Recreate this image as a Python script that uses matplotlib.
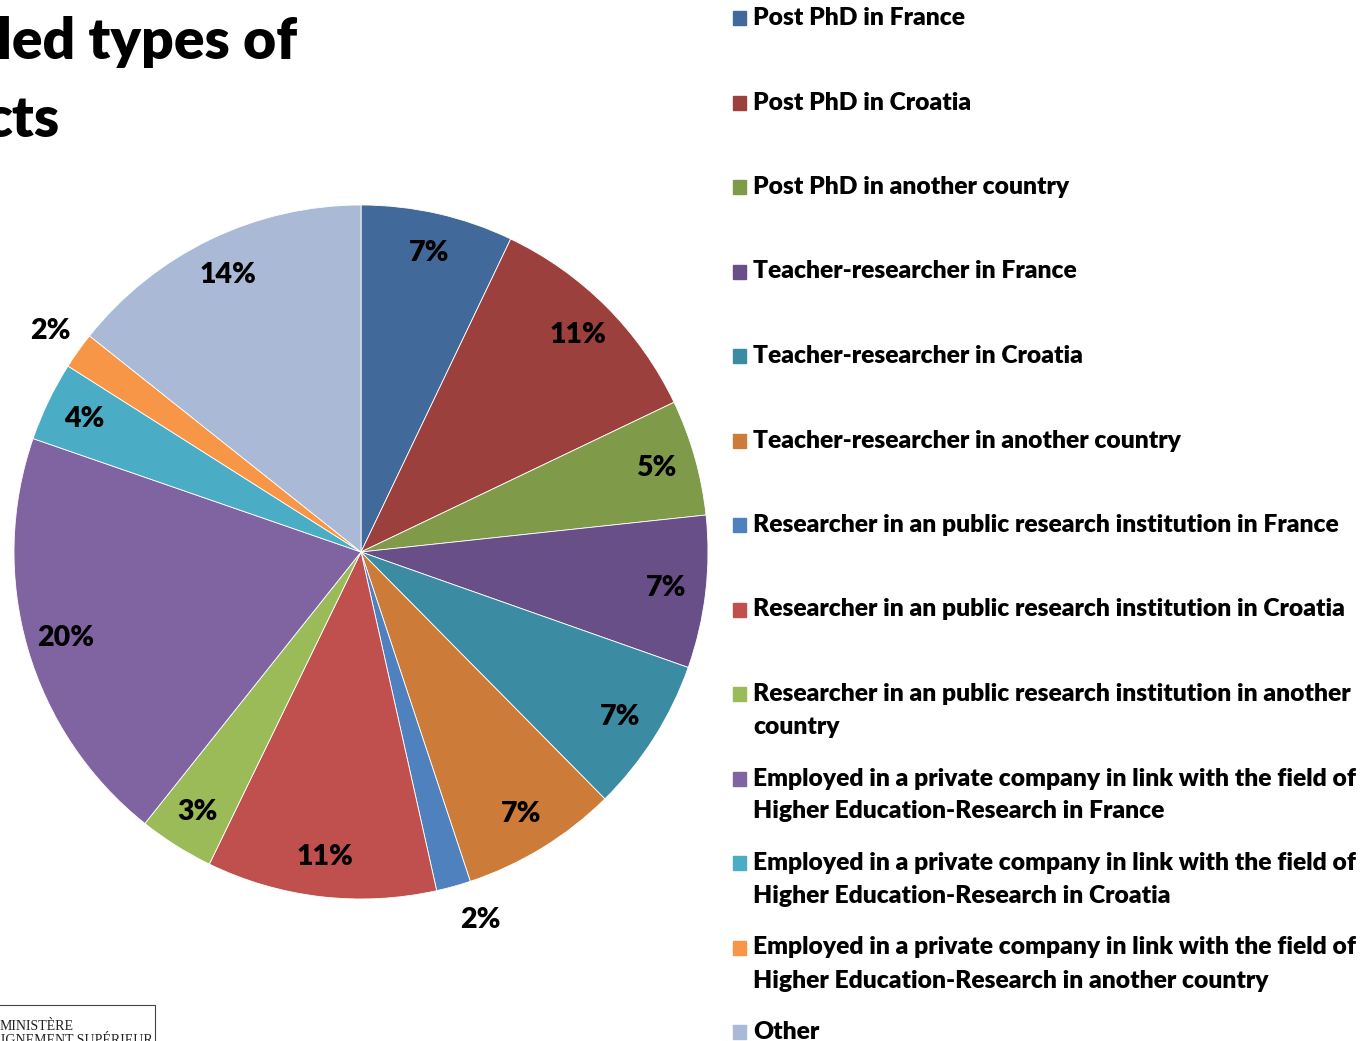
import numpy as np
import matplotlib.pyplot as plt
from matplotlib.patches import Rectangle

categories = [
    'Post PhD in France',
    'Post PhD in Croatia',
    'Post PhD in another country',
    'Teacher-researcher in France',
    'Teacher-researcher in Croatia',
    'Teacher-researcher in another country',
    'Researcher in an public research institution in France',
    'Researcher in an public research institution in Croatia',
    'Researcher in an public research institution in another\ncountry',
    'Employed in a private company in link with the field of\nHigher Education-Research in France',
    'Employed in a private company in link with the field of\nHigher Education-Research in Croatia',
    'Employed in a private company in link with the field of\nHigher Education-Research in another country',
    'Other',
]
shares = [7.1, 10.8, 5.4, 7.1, 7.2, 7.3, 1.6, 10.7, 3.5, 19.6, 3.7, 1.7, 14.3]
shown_pct = [7, 11, 5, 7, 7, 7, 2, 11, 3, 20, 4, 2, 14]
colors = ['#41699A', '#9C403D', '#7F9A48', '#694F87', '#3B8BA2', '#CC7B38',
          '#4E81BD', '#C0504D', '#9BBB59', '#8064A2', '#4BACC6', '#F79646', '#AAB9D6']

W, H = 1372, 1041
fig = plt.figure(figsize=(W / 100, H / 100), dpi=100)
font = 'Lato'
weight = 'heavy'


def fx(x):
    return x / W


def fy(y):
    return 1 - y / H


# pie: centre (361, 552), radius 347 px
cx, cy, r = 361, 552, 347
ax = fig.add_axes([fx(cx - r), fy(cy + r), 2 * r / W, 2 * r / H])
wedges, _ = ax.pie(shares, colors=colors, startangle=90, counterclock=False,
                   radius=1, wedgeprops=dict(linewidth=0.6, edgecolor='white'))
ax.set_xlim(-1, 1)
ax.set_ylim(-1, 1)
ax.set_aspect('equal')
ax.axis('off')

for w, p, s in zip(wedges, shown_pct, shares):
    mid = np.deg2rad((w.theta1 + w.theta2) / 2)
    d = 1.10 if s < 2.5 else 0.885
    dx = 0.05 if (s < 2.5 and np.cos(mid) > 0) else 0
    ax.text(d * np.cos(mid) + dx, d * np.sin(mid), f'{p}%', ha='center', va='center',
            fontsize=20.5, fontweight=weight, family=font, color='black', clip_on=False)

# legend
for i, (lab, c) in enumerate(zip(categories, colors)):
    y0 = 18 + i * 84.5
    fig.patches.append(Rectangle((fx(733), fy(y0 + 7)), 13 / W, 14 / H,
                                 transform=fig.transFigure, color=c))
    for k, line in enumerate(lab.split('\n')):
        fig.text(fx(753), fy(y0 + k * 33), line, ha='left', va='center',
                 fontsize=17.7, fontweight=weight, family=font, color='black')

# title fragment (cut off at the left)
fig.text(fx(-3), fy(42), 'led types of', ha='left', va='center',
         fontsize=41, fontweight=weight, family=font)
fig.text(fx(-16), fy(120), 'cts', ha='left', va='center',
         fontsize=41, fontweight=weight, family=font)

# logo box fragment bottom-left
fig.patches.append(Rectangle((fx(-5), fy(1045)), 160 / W, 40 / H,
                             transform=fig.transFigure, fill=False,
                             edgecolor='#444444', linewidth=0.8))
fig.text(fx(0), fy(1027), 'MINISTÈRE', ha='left', va='center',
         fontsize=10, family='Liberation Serif', color='#222222')
fig.text(fx(-45), fy(1041), "L'ENSEIGNEMENT SUPÉRIEUR", ha='left', va='center',
         fontsize=10, family='Liberation Serif', color='#222222')

fig.savefig('out.png', dpi=100)
